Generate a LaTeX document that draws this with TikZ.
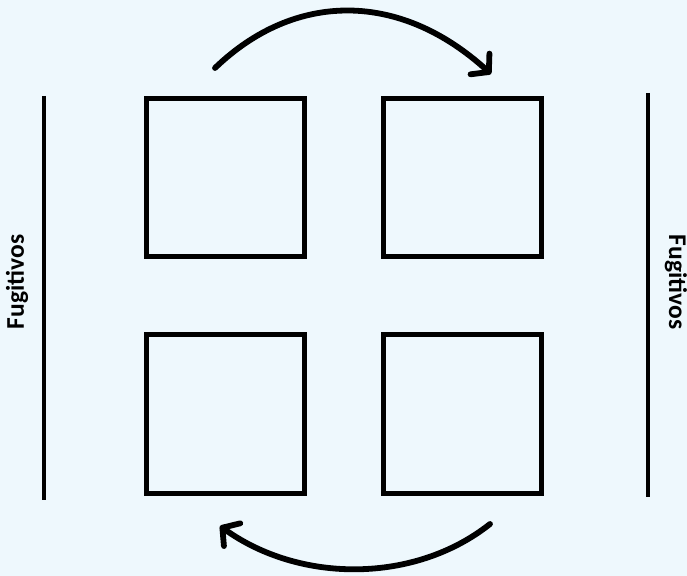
\documentclass[tikz,border=0pt]{standalone}
\usepackage{fontspec}
\setsansfont{Carlito}
\usepackage{tikz}
\usetikzlibrary{positioning, arrows.meta}

\definecolor{bgblue}{RGB}{238,248,253}

\begin{document}
\begin{tikzpicture}[
  cell/.style={draw, line width=2.6pt, minimum width=3.17cm,
    minimum height=3.17cm, inner sep=0pt},
  wall/.style={line width=2.8pt},
  turn/.style={line width=3.3pt, line cap=round,
    -{Straight Barb[length=2.4mm, width=5.6mm, line width=3.3pt, round]}},
  side/.style={font=\sffamily\bfseries\fontsize{14.5}{16}\selectfont}]

% --- Background ---
\fill[bgblue] (0, 0) rectangle (13.74, 11.52);
\useasboundingbox (0, 0) rectangle (13.74, 11.52);

% --- Cells ---
\node[cell] (topleft) at (4.51, 7.97) {};
\node[cell] (topright) at (9.25, 7.97) {};
\node[cell] (botleft) at (4.51, 3.24) {};
\node[cell] (botright) at (9.25, 3.24) {};

% --- Side walls ---
\coordinate (lefttop) at (0.88, 9.6);
\coordinate (leftbot) at (0.88, 1.52);
\coordinate (righttop) at (12.96, 9.66);
\coordinate (rightbot) at (12.96, 1.58);
\draw[wall] (lefttop) -- (leftbot);
\draw[wall] (righttop) -- (rightbot);

% --- Labels ---
\node[side, rotate=90] (leftlabel) at (0.34, 5.88) {Fugitivos};
\node[side, rotate=-90] (rightlabel) at (13.52, 5.88) {Fugitivos};

% --- Rotation arrows ---
\coordinate (topstart) at (4.3, 10.16);
\coordinate (topend) at (9.82, 10.04);
\coordinate (botstart) at (9.8, 1.04);
\coordinate (botend) at (4.4, 1.0);
\draw[turn] (topstart) .. controls (5.9, 11.7) and (8.0, 11.7) .. (topend);
\draw[turn] (botstart) .. controls (8.3, -0.15) and (6.0, -0.15) .. (botend);

\end{tikzpicture}
\end{document}
